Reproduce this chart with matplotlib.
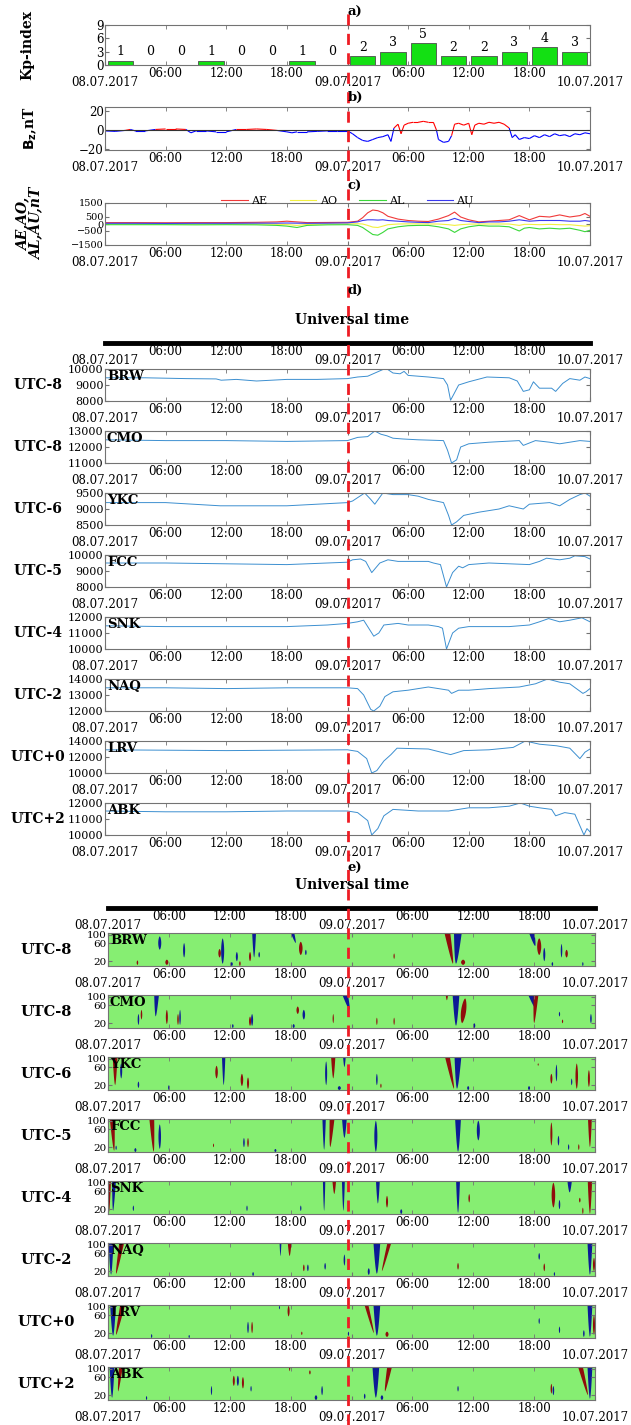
import numpy as np
import matplotlib
matplotlib.use('Agg')
import matplotlib.pyplot as plt
from matplotlib.lines import Line2D
from matplotlib.collections import LineCollection

plt.rcParams['font.family'] = 'DejaVu Serif'
plt.rcParams['font.size'] = 8.5

# ---- data (hours from 08.07.2017 00:00 UT) ----
date_labels = ['08.07.2017', '09.07.2017', '10.07.2017']
hour_ticks = [6, 12, 18, 30, 36, 42]
hour_labels = ['06:00', '12:00', '18:00', '06:00', '12:00', '18:00']

kp = [1, 0, 0, 1, 0, 0, 1, 0, 2, 3, 5, 2, 2, 3, 4, 3]

bz_t = [0, 1, 2, 2.5, 3, 4, 5, 6, 7, 8, 8.5, 9, 10, 11, 12, 13, 14, 15, 16, 17, 18, 18.5, 19, 20, 21, 22, 23, 24,
        24.5, 25, 25.5, 26, 26.5, 27, 27.5, 28, 28.3, 28.6, 29, 29.3, 29.6, 30, 30.5, 31, 31.5, 32, 32.5, 32.8,
        33, 33.5, 34, 34.3, 34.6, 35, 35.5, 36, 36.3, 36.6, 37, 37.5, 38, 38.5, 39, 39.5, 40, 40.3, 40.6, 41,
        41.5, 42, 42.5, 43, 43.5, 44, 44.5, 45, 45.5, 46, 46.5, 47, 47.5, 48]
bz_v = [-1, -1.5, -0.5, 0.5, -1, -1, 0.5, 1, 1, 0.5, -3, -1, -1, -2, -2, 0.5, 0.5, 1, 0.5, -0.5, -2, -3, -2, -2,
        -1.5, -1, -1, -1, -4, -8, -11, -12, -10, -8, -7, -5, -12, 2, 6, -4, 5, 7, 8, 8, 9, 8, 8, 0, -10, -13,
        -12, -6, 6, 7, 5, 7, -5, 5, 7, 6, 8, 7, 8, 6, 2, -8, -5, -10, -8, -9, -6, -8, -5, -7, -4, -6, -5, -7,
        -4, -5, -3, -4]

ae_t = [0, 3, 6, 9, 12, 15, 17, 18, 19, 20, 22, 24, 25, 25.5, 26, 26.5, 27, 27.5, 28, 29, 30, 31, 32, 33, 34,
        34.6, 35.2, 36, 37, 38, 39, 40, 41, 41.5, 42, 43, 44, 45, 46, 47, 47.5, 48]
ae = [100, 100, 90, 100, 100, 120, 150, 200, 150, 100, 110, 120, 200, 450, 800, 1000, 950, 800, 550, 350, 250,
      200, 180, 350, 600, 850, 500, 300, 150, 200, 250, 300, 600, 450, 300, 550, 500, 650, 500, 600, 750, 550]
ao = [0, 0, -5, -5, 0, 0, -20, -40, -100, -30, 0, 10, 20, 0, -100, -220, -250, -150, -50, 0, 10, 10, 0, 0, -50,
      -100, -50, -10, 0, 0, 0, 0, -100, -25, -25, -50, -25, -50, -50, -120, -150, -120]
al = [-50, -50, -50, -60, -50, -60, -100, -150, -250, -100, -60, -50, -100, -250, -500, -750, -800, -600, -350,
      -200, -120, -100, -100, -200, -350, -600, -350, -200, -100, -150, -150, -200, -500, -300, -250, -350, -300,
      -350, -300, -450, -550, -450]
au = [50, 50, 40, 50, 50, 60, 60, 70, 60, 50, 60, 80, 150, 250, 300, 300, 280, 300, 250, 200, 150, 120, 100, 200,
      250, 400, 250, 180, 100, 150, 150, 200, 300, 250, 200, 250, 250, 250, 200, 200, 250, 200]

brw_t = [0, 4, 8, 11, 11.5, 13, 15, 18, 21, 24, 25, 26, 26.9, 27.8, 28.5, 29.2, 29.6, 30, 32, 33.5, 33.9, 34.2,
         34.5, 35, 36, 37.8, 40, 40.8, 41.4, 42, 42.4, 43, 44.2, 44.6, 45.3, 46, 47, 47.5, 48]
brw_v = [9450, 9450, 9400, 9380, 9300, 9350, 9250, 9350, 9350, 9400, 9500, 9550, 9800, 10050, 9750, 9700, 9850,
         9600, 9500, 9400, 9000, 8050, 8400, 9000, 9200, 9500, 9450, 9250, 8600, 8700, 9200, 8800, 8800, 8600,
         9100, 9400, 9300, 9500, 9400]
cmo_t = [0, 6, 12, 18, 24, 25, 26, 26.7, 27.3, 27.9, 28.5, 29.5, 31, 33.5, 33.9, 34.3, 34.8, 35.2, 36, 38, 41,
         41.4, 42, 42.6, 44, 45, 46, 47, 48]
cmo_v = [12450, 12400, 12400, 12350, 12400, 12600, 12650, 13000, 12800, 12700, 12550, 12500, 12450, 12400, 11800,
         11000, 11200, 12000, 12200, 12300, 12400, 12100, 12250, 12400, 12300, 12200, 12300, 12400, 12350]
ykc_t = [0, 6, 11.4, 18, 24, 24.5, 25.7, 26.3, 26.7, 27.5, 28.5, 30, 31, 32, 33.5, 34, 34.3, 34.8, 35.5, 37, 39,
         40, 41.4, 42, 44, 45, 46, 47, 47.5, 48]
ykc_v = [9200, 9200, 9100, 9100, 9200, 9250, 9500, 9300, 9150, 9500, 9450, 9450, 9400, 9300, 9200, 8800, 8500,
         8600, 8800, 8900, 9000, 9100, 9000, 9150, 9200, 9100, 9300, 9450, 9500, 9400]
fcc_t = [0, 6, 12, 18, 24, 24.5, 25.3, 25.8, 26.4, 27.2, 28, 29, 32, 32.5, 33.2, 33.8, 34.4, 35, 35.4, 36, 38, 40,
         42, 43, 43.7, 45, 46, 46.5, 47.5, 48]
fcc_v = [9500, 9500, 9450, 9400, 9550, 9700, 9750, 9600, 8900, 9500, 9700, 9600, 9600, 9500, 9400, 8000, 8900,
         9300, 9200, 9400, 9500, 9450, 9400, 9600, 9800, 9700, 9800, 9950, 9900, 9750]
snk_t = [0, 6, 12, 18, 22, 24, 25, 25.6, 26.1, 26.6, 27.1, 27.6, 29, 30, 32, 33, 33.4, 33.8, 34.4, 35, 36, 40, 42,
         43, 43.9, 45, 46, 47.2, 48]
snk_v = [11450, 11400, 11400, 11400, 11500, 11600, 11700, 11800, 11300, 10800, 11000, 11500, 11600, 11500, 11500,
         11400, 11300, 10000, 11000, 11300, 11400, 11400, 11500, 11700, 11900, 11700, 11800, 11950, 11700]
naq_t = [0, 6, 12, 18, 24, 25, 25.6, 26.3, 26.6, 27.2, 27.7, 28.5, 30, 32, 34, 34.3, 35, 36, 38, 41, 42.6, 43.8,
         45, 46, 47.3, 47.6, 48]
naq_v = [13450, 13450, 13400, 13450, 13450, 13400, 13000, 12100, 12000, 12300, 12900, 13200, 13300, 13500, 13300,
         13100, 13300, 13300, 13400, 13500, 13700, 14000, 13800, 13700, 13100, 13200, 13400]
lrv_t = [0, 6, 12, 18, 24, 25, 25.9, 26.4, 26.9, 27.6, 28.3, 28.9, 32, 34.2, 35.5, 38, 40.4, 41.6, 43, 44.7, 46,
         47, 47.5, 48]
lrv_v = [12900, 12850, 12800, 12850, 12900, 12700, 11800, 10000, 10300, 11500, 12300, 13100, 13000, 12300, 12800,
         12900, 13200, 14000, 13600, 13400, 13100, 11800, 12600, 13000]
abk_t = [0, 6, 12, 18, 24, 25, 26, 26.4, 27, 27.6, 28.5, 31, 34, 36, 38, 40, 41.1, 42, 43, 44.2, 44.6, 45.5, 46.5,
         47.4, 47.7, 48]
abk_v = [11500, 11450, 11450, 11500, 11500, 11400, 10900, 10000, 10400, 11200, 11600, 11500, 11500, 11700, 11700,
         11800, 12000, 11800, 11700, 11600, 11200, 11400, 11300, 10000, 10400, 10200]

# wavelet events: (top time h, shift to bottom h, low period, high period, width h, sign)
brw_ev = [(5.1, 0, 40, 90, 0.3, 'b'), (7.5, 0, 25, 60, 0.2, 'b'), (2.9, 0, 16, 21, 0.15, 'r'),
          (5.8, 0, 16, 22, 0.3, 'r'), (11.0, 0, 25, 42, 0.25, 'r'), (11.3, 0, 17, 80, 0.3, 'b'),
          (12.7, 0, 20, 35, 0.2, 'b'), (14.0, 0, 20, 35, 0.2, 'r'), (14.4, 0, 25, 130, 0.4, 'b'),
          (14.9, 0, 25, 35, 0.15, 'b'), (18.1, 0.4, 60, 130, 0.4, 'b'), (19.0, 0, 29, 65, 0.35, 'r'),
          (19.5, 0, 29, 40, 0.15, 'b'), (28.2, 0, 23, 32, 0.12, 'r'), (33.4, 0.6, 17, 130, 0.6, 'r'),
          (34.5, -0.2, 17, 130, 0.8, 'b'), (35.0, 0, 16, 22, 0.4, 'r'), (41.7, 0.4, 50, 130, 0.6, 'b'),
          (42.5, 0, 29, 80, 0.4, 'r'), (43.0, 0, 20, 45, 0.2, 'b'), (44.7, 0, 25, 57, 0.15, 'b'),
          (45.2, 0, 25, 40, 0.25, 'r'), (12.2, 0, 15, 19, 0.2, 'b'), (13.0, 0, 15, 20, 0.15, 'r'),
          (43.8, 0, 15, 19, 0.15, 'b'), (46.8, 0, 15, 19, 0.12, 'b')]
cmo_ev = [(4.8, -0.1, 30, 130, 0.5, 'b'), (3.0, 0, 18, 35, 0.15, 'b'), (3.3, 0, 25, 45, 0.15, 'r'),
          (5.8, 0, 19, 45, 0.2, 'r'), (6.9, 0, 18, 35, 0.15, 'r'), (7.1, 0, 18, 45, 0.15, 'b'),
          (14.0, 0, 17, 30, 0.2, 'r'), (14.2, 0, 17, 35, 0.2, 'b'), (18.7, 0, 35, 55, 0.25, 'r'),
          (19.3, 0, 25, 45, 0.25, 'b'), (22.2, 0, 20, 35, 0.12, 'r'), (23.3, 0.5, 45, 130, 0.6, 'b'),
          (26.5, 0, 18, 28, 0.12, 'r'), (28.2, 0, 18, 28, 0.12, 'r'), (33.4, 0, 80, 130, 0.3, 'r'),
          (34.3, 0, 17, 130, 0.7, 'b'), (35.2, -0.3, 20, 90, 0.5, 'r'), (41.6, 0.5, 50, 130, 0.6, 'b'),
          (42.2, -0.2, 20, 130, 0.5, 'r'), (44.5, 0, 30, 40, 0.12, 'b'), (44.8, 0, 20, 25, 0.12, 'r'),
          (47.6, 0, 20, 35, 0.15, 'b'), (12.3, 0, 15, 19, 0.15, 'b'), (18.3, 0, 15, 19, 0.2, 'b'),
          (36.1, 0, 15, 20, 0.2, 'b')]
ykc_ev = [(0.7, 0, 20, 130, 0.5, 'r'), (1.3, 0, 30, 75, 0.2, 'b'), (3.0, 0, 17, 25, 0.15, 'b'),
          (10.7, 0, 30, 65, 0.25, 'r'), (11.4, 0, 20, 130, 0.35, 'b'), (13.2, 0, 19, 40, 0.25, 'r'),
          (13.8, 0, 16, 32, 0.2, 'r'), (21.5, 0, 20, 85, 0.2, 'b'), (22.2, 0, 30, 130, 0.45, 'r'),
          (23.3, 0, 60, 130, 0.3, 'b'), (26.5, 0, 20, 40, 0.15, 'b'), (26.9, 0, 17, 22, 0.12, 'r'),
          (33.4, 0.7, 16, 130, 0.5, 'r'), (34.5, -0.1, 16, 130, 0.7, 'b'), (42.4, 0, 65, 75, 0.1, 'r'),
          (43.7, 0, 22, 40, 0.2, 'r'), (44.2, 0, 25, 70, 0.15, 'b'), (45.7, 0, 20, 30, 0.12, 'b'),
          (46.2, 0, 16, 75, 0.25, 'r'), (47.4, 0, 18, 50, 0.2, 'r'), (6.0, 0, 15, 20, 0.15, 'b'),
          (22.8, 0, 15, 19, 0.3, 'b'), (35.5, 0, 15, 19, 0.2, 'b'), (41.5, 0, 15, 19, 0.2, 'b')]
fcc_ev = [(0.4, 0.2, 16, 130, 0.5, 'r'), (0.8, 0, 17, 22, 0.12, 'b'), (4.3, 0.2, 15, 130, 0.5, 'r'),
          (5.1, 0, 18, 80, 0.25, 'b'), (10.4, 0, 20, 25, 0.1, 'r'), (13.4, 0, 20, 35, 0.15, 'b'),
          (13.8, 0, 20, 35, 0.15, 'r'), (21.3, 0, 17, 130, 0.35, 'b'), (22.1, -0.2, 20, 130, 0.5, 'r'),
          (23.3, 0, 35, 130, 0.5, 'b'), (26.4, 0, 15, 100, 0.3, 'b'), (34.5, 0, 15, 130, 0.6, 'b'),
          (36.5, 0, 30, 100, 0.3, 'b'), (43.7, 0, 22, 90, 0.2, 'r'), (44.4, 0, 22, 40, 0.15, 'b'),
          (47.5, 0, 20, 130, 0.4, 'r'), (2.7, 0, 15, 19, 0.2, 'b'), (16.5, 0, 15, 18, 0.2, 'b'),
          (45.4, 0, 17, 24, 0.12, 'b'), (46.4, 0, 17, 24, 0.12, 'r')]
snk_ev = [(0.1, 0, 17, 130, 0.4, 'r'), (0.6, -0.1, 18, 130, 0.4, 'b'), (2.5, 0, 18, 25, 0.12, 'b'),
          (13.7, 0, 18, 25, 0.12, 'b'), (19.0, 0, 18, 25, 0.12, 'b'), (21.3, 0, 18, 130, 0.25, 'b'),
          (22.3, 0, 50, 130, 0.4, 'r'), (23.2, 0, 18, 130, 0.3, 'b'), (26.6, 0, 28, 130, 0.4, 'b'),
          (27.5, 0, 22, 45, 0.2, 'r'), (34.5, 0, 16, 130, 0.4, 'b'), (35.6, 0, 30, 50, 0.15, 'r'),
          (43.9, 0, 22, 100, 0.35, 'r'), (44.5, 0, 20, 35, 0.15, 'b'), (45.5, 0, 55, 130, 0.5, 'b'),
          (46.5, 0, 30, 40, 0.15, 'r'), (47.5, 0, 15, 130, 0.45, 'r'), (28.9, 0, 15, 20, 0.2, 'b'),
          (46.8, 0, 15, 22, 0.12, 'r')]
naq_ev = [(0.3, 0, 16, 130, 0.5, 'b'), (1.4, -0.6, 17, 130, 0.5, 'r'), (17.0, 0, 50, 130, 0.2, 'b'),
          (17.9, 0, 50, 130, 0.4, 'r'), (19.3, 0, 20, 30, 0.15, 'r'), (19.7, 0, 20, 30, 0.15, 'b'),
          (21.4, 0, 22, 33, 0.15, 'b'), (23.3, 0, 28, 55, 0.15, 'b'), (26.5, 0, 17, 130, 0.7, 'b'),
          (27.8, -0.8, 20, 130, 0.4, 'r'), (34.5, 0, 22, 33, 0.15, 'r'), (42.5, 0, 40, 60, 0.15, 'b'),
          (43.0, 0, 20, 32, 0.15, 'r'), (47.5, 0, 16, 130, 0.5, 'b'), (47.9, 0, 20, 45, 0.2, 'r'),
          (14.3, 0, 15, 19, 0.15, 'b'), (25.7, 0, 16, 24, 0.2, 'b'), (44.0, 0, 15, 19, 0.12, 'b')]
lrv_ev = [(0.5, 0, 17, 130, 0.6, 'b'), (1.5, -0.7, 18, 130, 0.5, 'r'), (13.8, 0, 20, 40, 0.15, 'b'),
          (14.2, 0, 20, 40, 0.15, 'r'), (16.9, 0, 85, 105, 0.1, 'b'), (17.8, 0, 55, 105, 0.2, 'r'),
          (19.1, 0, 18, 22, 0.12, 'r'), (23.7, 0, 17, 22, 0.12, 'b'), (25.4, 0.8, 20, 130, 0.4, 'r'),
          (26.5, 0, 17, 130, 0.7, 'b'), (27.5, 0, 16, 22, 0.3, 'r'), (42.5, 0, 35, 50, 0.12, 'b'),
          (44.5, 0, 20, 30, 0.12, 'b'), (47.5, 0, 16, 130, 0.5, 'b'), (47.9, 0, 18, 60, 0.2, 'r'),
          (4.3, 0, 15, 19, 0.12, 'b'), (8.0, 0, 15, 18, 0.12, 'b'), (46.9, 0, 16, 24, 0.15, 'b')]
abk_ev = [(0.4, 0, 17, 130, 0.5, 'b'), (1.3, -0.3, 25, 130, 0.4, 'r'), (10.2, 0, 20, 35, 0.12, 'b'),
          (12.4, 0, 35, 65, 0.2, 'r'), (12.8, 0, 35, 65, 0.2, 'b'), (13.3, 0, 30, 60, 0.2, 'r'),
          (14.1, 0, 25, 35, 0.12, 'b'), (17.9, 0, 85, 130, 0.2, 'r'), (19.9, 0, 70, 90, 0.15, 'r'),
          (21.1, 0, 20, 35, 0.15, 'b'), (26.4, 0, 17, 130, 0.7, 'b'), (27.8, -0.5, 25, 130, 0.5, 'r'),
          (34.5, 0, 25, 35, 0.12, 'b'), (43.7, 0, 22, 40, 0.15, 'r'), (43.9, 0, 20, 35, 0.15, 'b'),
          (46.5, 0.8, 20, 130, 0.5, 'r'), (47.5, 0, 16, 130, 0.5, 'b'), (3.8, 0, 15, 19, 0.12, 'b'),
          (20.5, 0, 15, 20, 0.25, 'b'), (25.3, 0, 16, 22, 0.15, 'b'), (27.0, 0, 15, 20, 0.25, 'b')]

stations = ['BRW', 'CMO', 'YKC', 'FCC', 'SNK', 'NAQ', 'LRV', 'ABK']
zones = ['UTC-8', 'UTC-8', 'UTC-6', 'UTC-5', 'UTC-4', 'UTC-2', 'UTC+0', 'UTC+2']
mag_t = [brw_t, cmo_t, ykc_t, fcc_t, snk_t, naq_t, lrv_t, abk_t]
mag_v = [brw_v, cmo_v, ykc_v, fcc_v, snk_v, naq_v, lrv_v, abk_v]
mag_ticks = [[8000, 9000, 10000], [11000, 12000, 13000], [8500, 9000, 9500], [8000, 9000, 10000],
             [10000, 11000, 12000], [12000, 13000, 14000], [10000, 12000, 14000], [10000, 11000, 12000]]
events = [brw_ev, cmo_ev, ykc_ev, fcc_ev, snk_ev, naq_ev, lrv_ev, abk_ev]

W, H = 631, 1425
GREY = '0.45'


def box(left, top, width, height):
    return [left / W, 1 - (top + height) / H, width / W, height / H]


def time_axis(ax, size=8.5):
    ax.set_xlim(0, 48)
    ax.set_xticks([0, 24, 48])
    ax.set_xticklabels(date_labels, fontsize=size)
    ax.set_xticks(hour_ticks, minor=True)
    ax.set_xticklabels(hour_labels, minor=True, fontsize=size)
    ax.tick_params(axis='x', which='major', pad=8, direction='in', top=True, length=3, color=GREY)
    ax.tick_params(axis='x', which='minor', pad=1.5, direction='in', top=True, length=3, color=GREY)
    ax.tick_params(axis='y', direction='in', right=True, length=3, pad=1, color=GREY)
    for s in ax.spines.values():
        s.set_color(GREY)


def blob(ax, ev):
    t, dt, lo, hi, w, c = ev
    f = np.linspace(0, 1, 25)
    y = lo * (hi / lo) ** f
    if hi > 110:
        half = w / 2 * f ** 0.6
    else:
        half = w / 2 * np.sin(np.pi * f) ** 0.6
    xc = t + dt * (1 - f)
    xs = np.concatenate([xc - half, (xc + half)[::-1]])
    ys = np.concatenate([y, y[::-1]])
    ax.fill(xs, ys, color='#0c1a96' if c == 'b' else '#900c0c', lw=0)


def main():
    fig = plt.figure(figsize=(W / 100, H / 100), dpi=100)

    # a) Kp
    ax = fig.add_axes(box(105, 25, 485, 40))
    kp_t = np.arange(1.5, 48, 3)
    ax.bar(kp_t, kp, width=2.5, color='#13e013', edgecolor='0.3', linewidth=0.6)
    for t, v in zip(kp_t, kp):
        ax.text(t, max(v, 1) + 0.5, str(v), ha='center', va='bottom', fontsize=9)
    ax.set_ylim(0, 9)
    ax.set_yticks([0, 3, 6, 9])
    time_axis(ax)
    fig.text(27 / W, 1 - 45 / H, 'Kp-index', rotation=90, ha='center', va='center',
             fontweight='bold', fontsize=10)
    fig.text(355 / W, 1 - 12 / H, 'a)', ha='center', va='center', fontweight='bold', fontsize=9.5)

    # b) Bz, red where positive, blue where negative
    ax = fig.add_axes(box(105, 107, 485, 43))
    bz = np.array(bz_v, dtype=float)
    pts = np.column_stack([bz_t, bz])
    segs = np.stack([pts[:-1], pts[1:]], axis=1)
    mid = (bz[:-1] + bz[1:]) / 2
    ax.add_collection(LineCollection(segs, colors=np.where(mid >= 0, 'red', 'blue'), lw=0.8))
    ax.axhline(0, color='0.2', lw=0.8)
    ax.set_ylim(-21, 24)
    ax.set_yticks([-20, 0, 20])
    time_axis(ax)
    fig.text(30 / W, 1 - 128 / H, r'$\mathbf{B_z}$,nT', rotation=90, ha='center', va='center',
             fontweight='bold', fontsize=10)
    fig.text(355 / W, 1 - 97 / H, 'b)', ha='center', va='center', fontweight='bold', fontsize=9.5)

    # c) AE, AO, AL, AU
    ax = fig.add_axes(box(105, 203, 485, 42))
    ax.plot(ae_t, ae, color='#f03a3a', lw=0.8, label='AE')
    ax.plot(ae_t, ao, color='#f2f040', lw=0.8, label='AO')
    ax.plot(ae_t, al, color='#3ad83a', lw=0.8, label='AL')
    ax.plot(ae_t, au, color='#3a3af0', lw=0.8, label='AU')
    ax.set_ylim(-1500, 1500)
    ax.set_yticks([-1500, -500, 0, 500, 1500])
    time_axis(ax)
    ax.tick_params(axis='y', labelsize=7)
    ax.legend(ncol=4, loc='center', bbox_to_anchor=(0.5, 1.05), frameon=False, handlelength=2.4,
              handletextpad=0.3, columnspacing=2.0, fontsize=8, borderpad=0)
    fig.text(30 / W, 1 - 224 / H, 'AE,AO,\nAL,AU,nT', rotation=90, ha='center', va='center',
             fontweight='bold', fontstyle='italic', fontsize=10, linespacing=0.9)
    fig.text(355 / W, 1 - 186 / H, 'c)', ha='center', va='center', fontweight='bold', fontsize=9.5)

    # universal time header axes for d) and e)
    fig.text(355 / W, 1 - 290 / H, 'd)', ha='center', va='center', fontweight='bold', fontsize=9.5)
    fig.text(355 / W, 1 - 868 / H, 'e)', ha='center', va='center', fontweight='bold', fontsize=9.5)
    for k, (left, top_line, title_y) in enumerate([(105, 343, 320), (108, 908, 885)]):
        ut = fig.add_axes(box(left, top_line - 10, 485 + 2 * k, 10))
        time_axis(ut)
        ut.tick_params(axis='x', which='both', length=0, top=False)
        ut.set_yticks([])
        for side in ['top', 'left', 'right']:
            ut.spines[side].set_visible(False)
        ut.spines['bottom'].set_color('black')
        ut.spines['bottom'].set_linewidth(3.5)
        ut.patch.set_alpha(0)
        fig.text(352 / W, 1 - title_y / H, 'Universal time', ha='center', va='center',
                 fontweight='bold', fontsize=10)

    # d) magnetometers
    for i in range(8):
        ax = fig.add_axes(box(105, 369 + 62 * i, 485, 32))
        ax.plot(mag_t[i], mag_v[i], color='#3c8fd0', lw=0.7)
        ax.set_ylim(mag_ticks[i][0], mag_ticks[i][-1])
        ax.set_yticks(mag_ticks[i])
        time_axis(ax)
        ax.tick_params(axis='y', labelsize=8)
        ax.text(0.004, 0.97, stations[i], transform=ax.transAxes, ha='left', va='top',
                fontweight='bold', fontsize=9.5)
        fig.text(38 / W, 1 - (385 + 62 * i) / H, zones[i], ha='center', va='center',
                 fontweight='bold', fontsize=10)

    # e) wavelet panels
    for i in range(8):
        ax = fig.add_axes(box(108, 933 + 62 * i, 487, 33))
        ax.set_facecolor('#86ee72')
        for ev in events[i]:
            blob(ax, ev)
        ax.set_yscale('log')
        ax.set_ylim(15, 110)
        ax.set_yticks([20, 60, 100])
        ax.set_yticklabels(['20', '60', '100'])
        ax.minorticks_off()
        time_axis(ax)
        ax.tick_params(axis='y', labelsize=7.5)
        ax.text(0.004, 0.97, stations[i], transform=ax.transAxes, ha='left', va='top',
                fontweight='bold', fontsize=9.5)
        fig.text(46 / W, 1 - (950 + 62 * i) / H, zones[i], ha='center', va='center',
                 fontweight='bold', fontsize=10.5)

    # red dashed line at 09.07.2017 00:00
    x0 = (105 + 485 / 2) / W
    fig.add_artist(Line2D([x0, x0], [0.0, 0.995], transform=fig.transFigure, color='#ee1c24',
                          lw=2, dashes=(4, 3)))

    fig.savefig('out.png', dpi=100)


if __name__ == '__main__':
    main()
